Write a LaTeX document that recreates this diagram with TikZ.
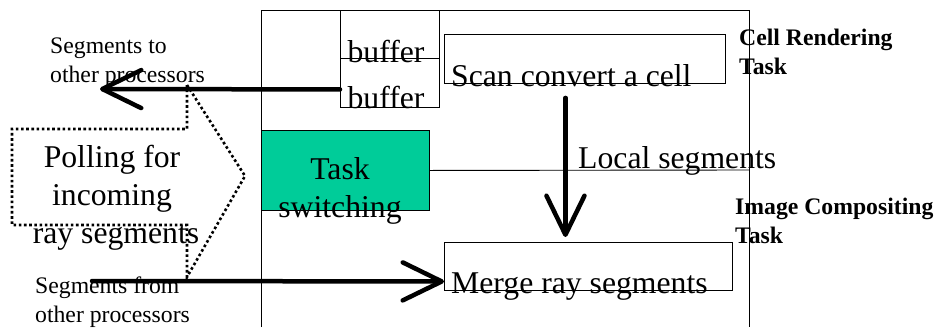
\documentclass[tikz,border=0pt]{standalone}
\usepackage{fontspec}
\setmainfont{Liberation Serif}
\usetikzlibrary{arrows.meta}
\definecolor{tealgreen}{RGB}{0,204,153}
\tikzset{
  box/.style={draw=black, line width=0.9pt, inner sep=0pt, anchor=north west},
  big/.style={font=\fontsize{31.7pt}{38pt}\selectfont, inner sep=0pt},
  small/.style={font=\fontsize{23.7pt}{29pt}\selectfont, inner sep=0pt, align=left},
  smallbold/.style={font=\fontsize{23.7pt}{28.5pt}\selectfont\bfseries, inner sep=0pt, align=left},
  bigarrow/.style={line width=4.5pt, line cap=round, -{Straight Barb[length=39pt,width=38pt,round]}},
  dotline/.style={line width=2.6pt, dash pattern=on 2.6pt off 2.6pt}
}
\begin{document}
\begin{tikzpicture}[x=1pt,y=-1pt]
\useasboundingbox (0,0) rectangle (939,327);
% outer frame
\coordinate (fbl) at (261,327);
\coordinate (ftl) at (261,10);
\coordinate (ftr) at (749,10);
\coordinate (fbr) at (749,327);
\draw[line width=0.9pt] (fbl) -- (ftl) -- (ftr) -- (fbr);
% buffers
\node[box, minimum width=99pt, minimum height=48pt] (buf1) at (340,10) {};
\node[box, minimum width=99pt, minimum height=49pt] (buf2) at (340,58) {};
\node[big, anchor=base] (buft1) at (386,62) {buffer};
\node[big, anchor=base] (buft2) at (386,108) {buffer};
% scan convert
\node[box, minimum width=281pt, minimum height=49pt] (scan) at (444,34) {};
\node[big, anchor=base west] (scant) at (451,86) {Scan convert a cell};
% merge
\node[box, minimum width=288pt, minimum height=48pt] (merge) at (444,242) {};
\node[big, anchor=base west] (merget) at (451,293) {Merge ray segments};
% task switching
\node[box, fill=tealgreen, minimum width=168pt, minimum height=80pt] (task) at (261,130) {};
\node[big, anchor=base, align=center] (taskt) at (340,217) {Task\\switching};
\coordinate (rline) at (749,170);
\draw[line width=0.9pt] (task.east) -- (rline);
\node[big, anchor=base west] (local) at (578,168) {Local segments};
% labels
\node[smallbold, anchor=base west] (cell) at (739,74) {Cell Rendering\\Task};
\node[smallbold, anchor=base west] (img) at (735,243) {Image Compositing\\Task};
\node[small, anchor=base west] (segto) at (50,82) {Segments to\\other processors};
\node[small, anchor=base west] (segfrom) at (35,322) {Segments from\\other processors};
% polling shape
\coordinate (p1) at (187,85);
\coordinate (p2) at (245,176);
\coordinate (p3) at (187,277);
\coordinate (p4) at (187,225);
\coordinate (p5) at (12,225);
\coordinate (p6) at (12,129);
\coordinate (p7) at (187,129);
\draw[dotline] (p1) -- (p2) -- (p3) -- (p4) -- (p5) -- (p6) -- (p7) -- cycle;
\node[big, anchor=base, align=center] (poll) at (112,243) {Polling for\\incoming\\\hspace*{8pt}ray segments};
% arrows
\coordinate (outL) at (100,89);
\coordinate (inR) at (92,281);
\draw[bigarrow] ([yshift=-6.5pt]buf2.west) -- (outL);
\draw[bigarrow] (inR) -- ([yshift=-15pt]merge.west);
\draw[bigarrow] ([xshift=-19.5pt,yshift=-14pt]scan.south) -- ([xshift=-23pt,yshift=5pt]merge.north);
\end{tikzpicture}
\end{document}
